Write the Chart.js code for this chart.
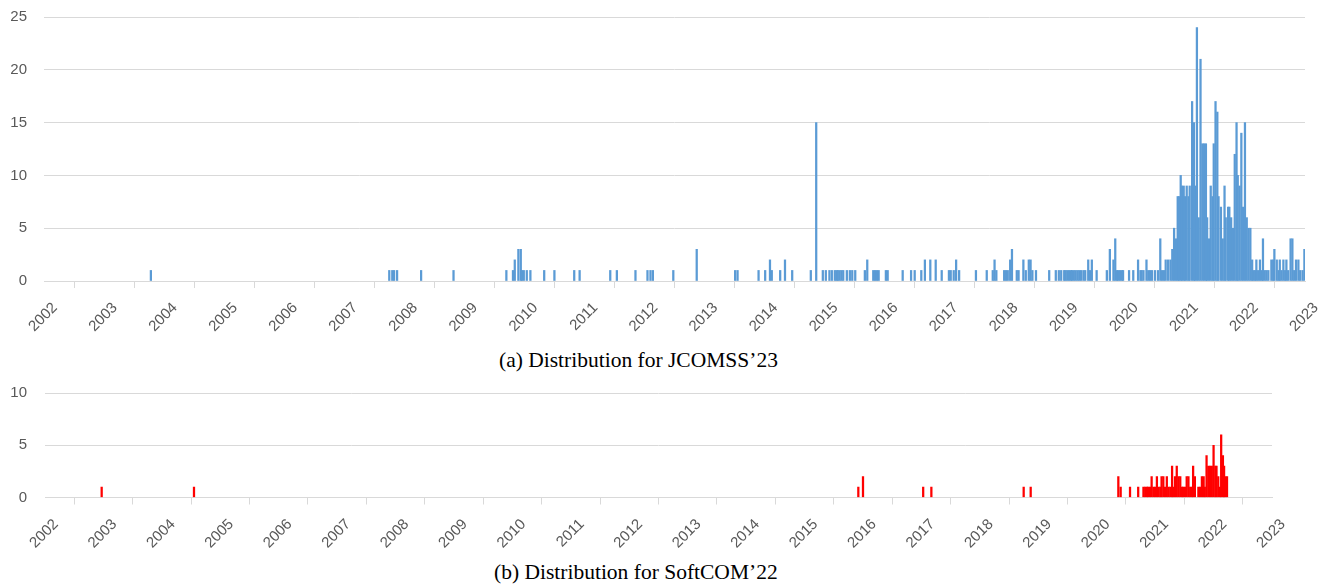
<!DOCTYPE html>
<html lang="en">

<head>
    <meta charset="UTF-8">
    <title>Distribution for JCOMSS'23 and SoftCOM'22</title>
    <script src="https://cdn.jsdelivr.net/npm/chart.js"></script>
    <style>
        body { margin: 0; background: #fff; width: 1329px; height: 586px; position: relative; overflow: hidden; }
        canvas { position: absolute; left: 0; }
        #jcomssChart { top: 0; }
        #softcomChart { top: 380px; }
        .caption { position: absolute; font-family: "Liberation Serif", "Times New Roman", serif; font-size: 21.5px; line-height: 1; color: #000; white-space: nowrap; }
    </style>
</head>

<body>
    <canvas id="jcomssChart" width="1329" height="340"></canvas>
    <div class="caption" style="left:499px; top:350px;">(a) Distribution for JCOMSS’23</div>
    <canvas id="softcomChart" width="1329" height="170"></canvas>
    <div class="caption" style="left:494px; top:562px;">(b) Distribution for SoftCOM’22</div>

    <script>
        // (a) JCOMSS'23 - publication dates (decimal year) and counts
        const jcomssYears = [
            2003.78, 2007.75, 2007.80, 2007.83, 2007.88, 2008.28, 2008.82,
            2009.70, 2009.81, 2009.84, 2009.90, 2009.94, 2009.96, 2009.99, 2010.04, 2010.10, 2010.33, 2010.50, 2010.83, 2010.92,
            2011.43, 2011.54, 2011.85, 2012.05, 2012.10, 2012.14, 2012.48, 2012.87,
            2013.51, 2013.55, 2013.90, 2014.01, 2014.09, 2014.12, 2014.26, 2014.34, 2014.46, 2014.77, 2014.86, 2014.97,
            2015.02, 2015.08, 2015.12, 2015.17, 2015.20, 2015.22, 2015.25, 2015.28, 2015.31, 2015.37, 2015.42, 2015.46, 2015.51, 2015.67, 2015.71, 2015.81, 2015.84, 2015.87, 2015.90,
            2016.02, 2016.05, 2016.30, 2016.44, 2016.50, 2016.61, 2016.67, 2016.76, 2016.85, 2016.95,
            2017.07, 2017.10, 2017.15, 2017.19, 2017.24, 2017.52, 2017.70, 2017.80, 2017.83, 2017.86, 2017.99,
            2018.02, 2018.05, 2018.09, 2018.12, 2018.20, 2018.23, 2018.31, 2018.35, 2018.40, 2018.43, 2018.46, 2018.52, 2018.74, 2018.85, 2018.90, 2018.94, 2018.99,
            2019.01, 2019.04, 2019.07, 2019.10, 2019.12, 2019.15, 2019.18, 2019.21, 2019.24, 2019.27, 2019.31, 2019.34, 2019.39, 2019.42, 2019.45, 2019.53, 2019.70, 2019.75, 2019.81, 2019.84, 2019.87, 2019.89, 2019.92, 2019.95, 2019.97,
            2020.07, 2020.14, 2020.22, 2020.26, 2020.28, 2020.31, 2020.36, 2020.39, 2020.42, 2020.45, 2020.50, 2020.55, 2020.59, 2020.62, 2020.65, 2020.68, 2020.72, 2020.76, 2020.79, 2020.82, 2020.85, 2020.88, 2020.90, 2020.93, 2020.95, 2020.98,
            2021.00, 2021.03, 2021.06, 2021.08, 2021.12, 2021.15, 2021.17, 2021.20, 2021.23, 2021.26, 2021.29, 2021.32, 2021.35, 2021.37, 2021.40, 2021.43, 2021.46, 2021.48, 2021.51, 2021.54, 2021.56, 2021.60, 2021.63, 2021.66, 2021.68, 2021.72, 2021.74, 2021.77, 2021.80, 2021.83, 2021.86, 2021.88, 2021.91, 2021.94, 2021.97,
            2022.00, 2022.03, 2022.06, 2022.09, 2022.12, 2022.14, 2022.17, 2022.19, 2022.22, 2022.25, 2022.28, 2022.30, 2022.33, 2022.36, 2022.39, 2022.44, 2022.47, 2022.49, 2022.53, 2022.56, 2022.58, 2022.61, 2022.64, 2022.67, 2022.69, 2022.72, 2022.76, 2022.79, 2022.82, 2022.85, 2022.89, 2022.92, 2022.96, 2022.99
        ];
        const jcomssCounts = [
            1, 1, 1, 1, 1, 1, 1,
            1, 1, 2, 3, 3, 1, 1, 1, 1, 1, 1, 1, 1,
            1, 1, 1, 1, 1, 1, 1, 3,
            1, 1, 1, 1, 2, 1, 1, 2, 1, 1, 15, 1,
            1, 1, 1, 1, 1, 1, 1, 1, 1, 1, 1, 1, 1, 1, 2, 1, 1, 1, 1,
            1, 1, 1, 1, 1, 1, 2, 2, 2, 1,
            1, 1, 1, 2, 1, 1, 1, 1, 2, 1, 1,
            1, 1, 2, 3, 1, 1, 2, 1, 2, 2, 1, 1, 1, 1, 1, 1, 1,
            1, 1, 1, 1, 1, 1, 1, 1, 1, 1, 1, 1, 2, 1, 2, 1, 1, 3, 2, 4, 1, 1, 1, 1, 1,
            1, 1, 2, 1, 1, 1, 2, 1, 1, 1, 1, 1, 4, 1, 1, 2, 2, 2, 3, 5, 4, 8, 8, 10, 9, 9,
            8, 9, 8, 9, 17, 15, 9, 24, 6, 21, 13, 13, 13, 6, 4, 9, 8, 13, 17, 16, 8, 7, 4, 9, 6, 7, 7, 6, 5, 12, 15, 10, 9, 14, 7,
            15, 6, 5, 5, 2, 1, 1, 2, 1, 2, 1, 4, 1, 1, 1, 2, 2, 3, 2, 1, 2, 1, 2, 1, 2, 1, 4, 4, 1, 2, 2, 1, 1, 3
        ];

        // (b) SoftCOM'22
        const softcomYears = [
            2002.97, 2004.55, 2015.92, 2016.00, 2017.03, 2017.17, 2018.75, 2018.87,
            2020.37, 2020.41, 2020.57, 2020.71, 2020.80, 2020.83, 2020.86, 2020.88, 2020.91, 2020.94, 2020.97,
            2021.00, 2021.03, 2021.06, 2021.09, 2021.11, 2021.14, 2021.17, 2021.20, 2021.23, 2021.26, 2021.29, 2021.31, 2021.34, 2021.37, 2021.40, 2021.43, 2021.46, 2021.48, 2021.51, 2021.54, 2021.57, 2021.60, 2021.63, 2021.65, 2021.68, 2021.74, 2021.77, 2021.80, 2021.83, 2021.85, 2021.88, 2021.91, 2021.94, 2021.97,
            2022.00, 2022.03, 2022.05, 2022.08, 2022.11, 2022.13, 2022.16, 2022.18, 2022.20, 2022.23
        ];
        const softcomCounts = [
            1, 1, 1, 2, 1, 1, 1, 1,
            2, 1, 1, 1, 1, 1, 1, 1, 1, 2, 1,
            1, 2, 1, 1, 2, 2, 1, 2, 1, 1, 3, 1, 2, 3, 2, 2, 1, 1, 1, 2, 2, 1, 1, 3, 2, 1, 1, 2, 2, 1, 4, 3, 3, 3,
            5, 3, 3, 2, 1, 6, 4, 3, 2, 2
        ];

        const yearFrom = 2002;
        const yearTo = 2023;

        function makeChart(id, years, counts, color, yMax, area) {
            const ctx = document.getElementById(id).getContext('2d');
            const canvas = ctx.canvas;
            return new Chart(ctx, {
                type: 'bar',
                data: {
                    datasets: [{
                        data: years.map((x, i) => ({ x: x, y: counts[i] })),
                        backgroundColor: color,
                        borderWidth: 0,
                        barThickness: 1.6
                    }]
                },
                options: {
                    responsive: false,
                    animation: false,
                    layout: { padding: { top: area.top, right: canvas.width - area.right, left: 0, bottom: 0 } },
                    plugins: { legend: { display: false }, tooltip: { enabled: false } },
                    scales: {
                        x: {
                            type: 'linear',
                            min: yearFrom,
                            max: yearTo,
                            offset: false,
                            grid: { drawOnChartArea: false, color: '#d9d9d9', tickLength: 7 },
                            border: { color: '#d9d9d9' },
                            ticks: {
                                stepSize: 1,
                                autoSkip: false,
                                maxRotation: 45,
                                minRotation: 45,
                                labelOffset: 11,
                                padding: 11,
                                color: '#595959',
                                font: { family: 'Liberation Sans', size: 15 },
                                callback: v => String(v)
                            },
                            afterFit: s => { s.height = canvas.height - area.bottom; }
                        },
                        y: {
                            min: 0,
                            max: yMax,
                            // invisible tick marks keep the labels away from the plot
                            grid: { color: '#d9d9d9', tickColor: 'rgba(0,0,0,0)', tickLength: area.left - 28 },
                            border: { display: false },
                            ticks: {
                                stepSize: 5,
                                padding: 1,
                                color: '#595959',
                                font: { family: 'Liberation Sans', size: 15 }
                            },
                            afterFit: s => { s.width = area.left; }
                        }
                    }
                }
            });
        }

        makeChart('jcomssChart', jcomssYears, jcomssCounts, '#5b9bd5', 25, { left: 44, right: 1305, top: 17, bottom: 281 });
        makeChart('softcomChart', softcomYears, softcomCounts, '#ff0000', 10, { left: 45, right: 1272, top: 13, bottom: 117.5 });
    </script>
</body>

</html>
